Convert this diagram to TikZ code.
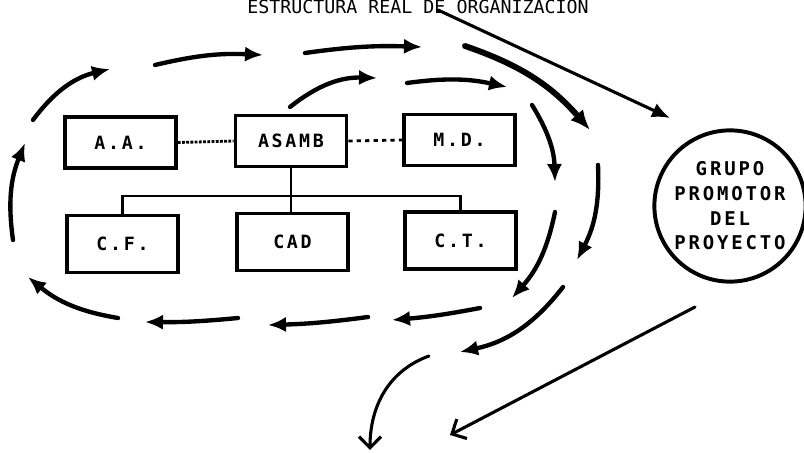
\documentclass[tikz,border=0pt]{standalone}
\usepackage{fontspec}
\newfontfamily\plotter{DejaVu Sans Mono}
\newfontfamily\plotterwide{DejaVu Sans Mono}[LetterSpace=15]
\usetikzlibrary{arrows.meta}
\tikzset{
  flow/.style={-{Latex[length=4.5mm,width=3.8mm]}, line width=3.1pt, line cap=round},
  heavyflow/.style={-{Latex[length=5mm,width=4.2mm]}, line width=4.2pt, line cap=round},
  thinflow/.style={-{Latex[length=4.5mm,width=3.8mm]}, line width=2.2pt, line cap=round},
  openflow/.style={-{Straight Barb[length=2.8mm,width=5.5mm,line width=2.2pt]}, line width=2.2pt, line cap=round},
  box/.style={draw, line width=2.4pt, rectangle, minimum width=2.78cm, minimum height=1.27cm,
    font=\plotterwide\bfseries\fontsize{13}{15}\selectfont},
  lowbox/.style={box, minimum height=1.42cm},
  link/.style={line width=2pt},
  grupo/.style={draw, circle, line width=2.8pt, minimum size=3.78cm, inner sep=0pt, align=center,
    font=\plotterwide\bfseries\fontsize{13.5}{17.5}\selectfont}
}

\begin{document}
\begin{tikzpicture}[x=0.025cm, y=-0.025cm]
  \useasboundingbox (0,0) rectangle (804,453);

  \node[anchor=base, font=\plotter\fontsize{13}{15}\selectfont] (titulo) at (418,14) {ESTRUCTURA REAL DE ORGANIZACION};

  \node[box] (aa) at (120.5,142.5) {A.A.};
  \node[box] (asamb) at (291,141) {ASAMB};
  \node[box] (md) at (459.5,140) {M.D.};
  \node[lowbox] (cf) at (122.5,244) {C.F.};
  \node[lowbox] (cad) at (292.5,242) {CAD};
  \node[lowbox] (ct) at (460.5,240.5) {C.T.};
  \coordinate (bus) at (292.5,196);

  \node[grupo] (gp) at (730,206) {GRUPO\\PROMOTOR\\DEL\\PROYECTO};

  % organigrama
  \draw[link, densely dotted] (aa.east) -- (asamb.west);
  \draw[link, dashed] (asamb.east) -- (md.west);
  \draw[link] (asamb.south) -- (asamb.south |- cad.north);
  \draw[link] (cf.north) |- (bus) -| (ct.north);

  % circulacion
  \draw[flow] (13,240) to[bend left=15] (25,143);
  \draw[flow] (33,120) to[bend left=20] (110,69);
  \draw[flow] (155,65) to[bend left=8] (263,55);
  \draw[flow] (305,53) to[bend left=5] (422,47);
  \draw[flow] (290,107) to[bend left=20] (377,78);
  \draw[flow] (407,83) to[bend left=10] (507,87);
  \draw[heavyflow] (465,46) to[bend left=15] (590,130);
  \draw[flow] (532,105) to[bend left=15] (555,182);
  \draw[flow] (598,165) to[bend left=15] (577,260);
  \draw[flow] (555,212) to[bend left=15] (512,298);
  \draw[flow] (563,287) to[bend left=20] (460,352);
  \draw[flow] (480,308) to[bend left=3] (392,320);
  \draw[flow] (368,317) to[bend left=3] (268,325);
  \draw[flow] (238,318) to[bend left=3] (145,322);
  \draw[flow] (118,318) to[bend left=15] (28,277);
  \draw[openflow] (429,356) to[out=200, in=90] (370,450);

  \draw[thinflow] (438,10) -- (670,118);
  \draw[openflow] (695,307) -- (450,435);
\end{tikzpicture}
\end{document}
